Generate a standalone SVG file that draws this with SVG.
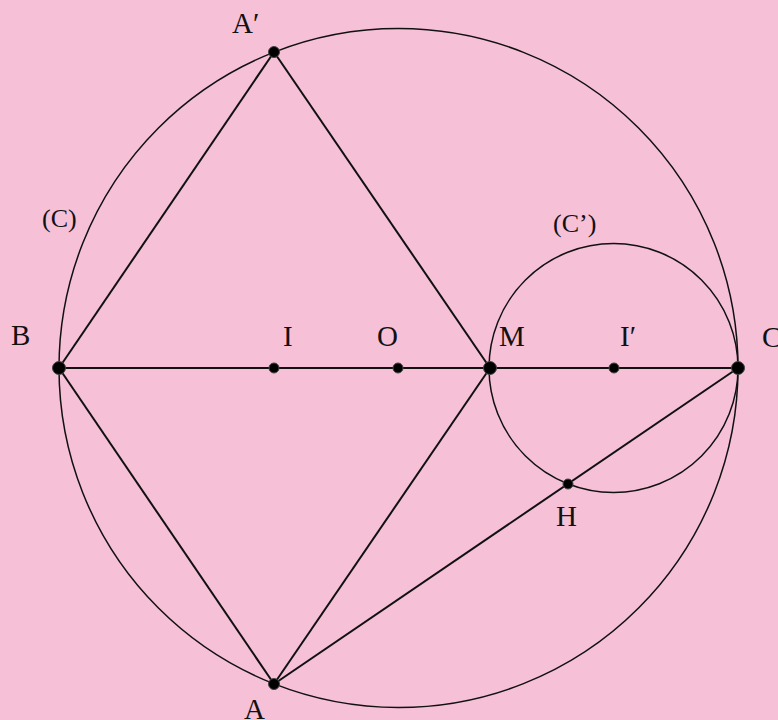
<svg xmlns="http://www.w3.org/2000/svg" width="778" height="720" viewBox="0 0 778 720">
<style>
.crc{fill:none;stroke:#111;stroke-width:1.5}
.seg{stroke:#111;stroke-width:2;fill:none}
.pt{fill:#000;stroke:#444;stroke-width:1}
text{font-family:"Liberation Serif","Times New Roman",serif;font-size:29px;fill:#111}
.cl{font-size:26px}
</style>
<rect width="778" height="720" fill="#F6C0D7"/>
<g id="connectors">
<circle class="crc" cx="398.5" cy="368" r="339.5"/>
<circle class="crc" cx="613.5" cy="368" r="124.5"/>
<line class="seg" x1="59" y1="368" x2="738" y2="368"/>
<line class="seg" x1="59" y1="368" x2="274" y2="52"/>
<line class="seg" x1="274" y1="52" x2="490" y2="368"/>
<line class="seg" x1="59" y1="368" x2="274" y2="684"/>
<line class="seg" x1="274" y1="684" x2="490" y2="368"/>
<line class="seg" x1="274" y1="684" x2="738" y2="368"/>
</g>
<g id="B"><circle class="pt" cx="59" cy="368" r="6.5"/><text x="11" y="345">B</text></g>
<g id="C"><circle class="pt" cx="738" cy="368" r="6.5"/><text x="762" y="347">C</text></g>
<g id="Ap"><circle class="pt" cx="274" cy="52" r="5.5"/><text x="232" y="33">A′</text></g>
<g id="A"><circle class="pt" cx="274" cy="684" r="5.5"/><text x="244" y="719">A</text></g>
<g id="M"><circle class="pt" cx="490" cy="368" r="6.5"/><text x="499" y="346">M</text></g>
<g id="I"><circle class="pt" cx="274" cy="368" r="5"/><text x="283" y="346">I</text></g>
<g id="O"><circle class="pt" cx="398" cy="368" r="5"/><text x="377" y="346">O</text></g>
<g id="Ip"><circle class="pt" cx="614" cy="368" r="5"/><text x="620" y="346">I′</text></g>
<g id="H"><circle class="pt" cx="568" cy="484" r="5"/><text x="556" y="526">H</text></g>
<g id="circleC"><text class="cl" x="42" y="227">(C)</text></g>
<g id="circleCp"><text class="cl" x="553" y="232">(C’)</text></g>
</svg>
